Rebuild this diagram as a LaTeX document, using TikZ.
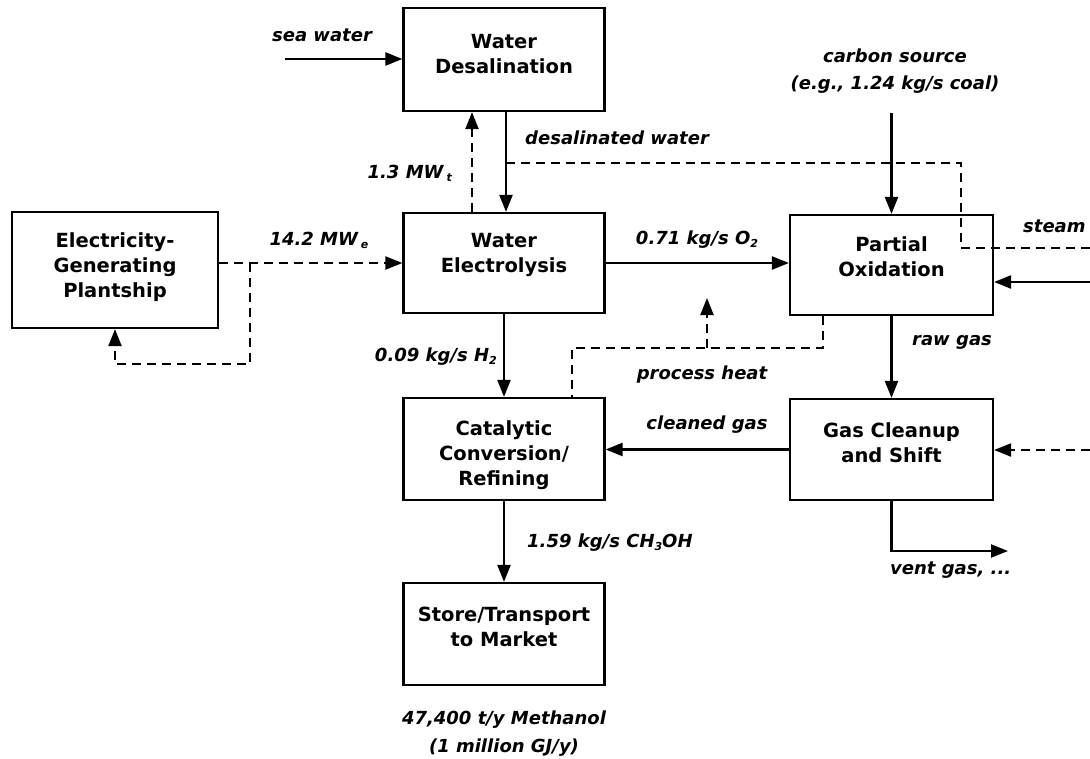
\documentclass[tikz,border=0pt]{standalone}
\usepackage{fontspec}
\setmainfont{DejaVu Sans}
\usetikzlibrary{arrows.meta}
\newcommand\mysub[1]{\raisebox{-0.3ex}{\fontsize{11}{11}\selectfont #1}}
\begin{document}
\begin{tikzpicture}[x=1pt,y=-1pt,
  tip/.style={-{Triangle[length=17pt,width=13pt]}},
  box/.style={draw, line width=2.2pt, minimum width=201pt, minimum height=101pt, inner sep=0pt},
  boxtext/.style={font=\fontsize{19.5}{25}\selectfont\bfseries, align=center, inner sep=0pt},
  lbl/.style={font=\fontsize{18}{27}\selectfont\bfseries\itshape, inner sep=0pt, align=center},
  flow/.style={line width=2.3pt, tip},
  dsh/.style={line width=2.1pt, dash pattern=on 9pt off 6pt}]
\useasboundingbox (0,0) rectangle (1090,758);
% boxes
\node[box, minimum height=103pt] (desal) at (504,59.5) {};
\node[boxtext] (tdesal) at (504,54) {Water\\Desalination};
\node[box, minimum height=100pt] (elec) at (504,263) {};
\node[boxtext] (telec) at (504,255) {Water\\Electrolysis};
\node[box, minimum width=206pt, minimum height=116pt] (plant) at (115,270) {};
\node[boxtext] (tplant) at (115,267) {Electricity-\\Generating\\Plantship};
\node[box, minimum width=203pt, minimum height=100pt] (po) at (891.5,265) {};
\node[boxtext] (tpo) at (891.5,257) {Partial\\Oxidation};
\node[box, minimum height=102pt] (cat) at (504,449) {};
\node[boxtext] (tcat) at (504,455) {Catalytic\\Conversion/\\Refining};
\node[box, minimum width=203pt, minimum height=101pt] (gcs) at (891.5,449.5) {};
\node[boxtext] (tgcs) at (891.5,443) {Gas Cleanup\\and Shift};
\node[box, minimum height=102pt] (store) at (504,634) {};
\node[boxtext] (tstore) at (504,627) {Store/Transport\\to Market};
% free ends and bends
\coordinate (seain) at (285,59);
\coordinate (steamin) at (1090,248);
\coordinate (sb1) at (961,248);
\coordinate (sb2) at (961,163);
\coordinate (j1) at (506,163);
\coordinate (pwr) at (250,263);
\coordinate (pb1) at (250,364);
\coordinate (pb2) at (115,364);
\coordinate (cin) at (891.5,113);
\coordinate (rin) at (1090,282);
\coordinate (ph1) at (823,348);
\coordinate (ph2) at (572,348);
\coordinate (ph3) at (707,348);
\coordinate (phtip) at (707,298);
\coordinate (din) at (1090,450);
\coordinate (vent) at (1008,551);
% connectors
\draw[flow] (seain) -- (seain -| desal.west);
\draw[flow] ([xshift=2pt]desal.south) -- ([xshift=2pt]elec.north);
\draw[dsh, tip] ([xshift=-32pt]elec.north) -- ([xshift=-32pt]desal.south);
\draw[dsh] (steamin) -- (sb1) -- (sb2) -- (j1);
\draw[dsh, tip] (plant.east |- pwr) -- (pwr -| elec.west);
\draw[dsh, tip] (pwr) -- (pb1) -- (pb2) -- (plant.south);
\draw[flow] (elec.east) -- (elec.east -| po.west);
\draw[flow] (cin) -- (po.north);
\draw[flow] (rin) -- (rin -| po.east);
\draw[flow] (po.south) -- (gcs.north);
\draw[dsh] (ph1 |- po.south) -- (ph1) -- (ph2) -- (ph2 |- cat.north);
\draw[dsh, tip] (ph3) -- (phtip);
\draw[flow] (elec.south) -- (cat.north);
\draw[flow] (gcs.west) -- (gcs.west -| cat.east);
\draw[dsh, tip] (din) -- (din -| gcs.east);
\draw[flow] (gcs.south) |- (vent);
\draw[flow] (cat.south) -- (store.north);
% labels
\node[lbl] (lsea) at (322,35) {sea water};
\node[lbl, anchor=west] (ldes) at (525,138) {desalinated water};
\node[lbl, anchor=east] (l13) at (452,173) {1.3 MW\,\mysub{t}};
\node[lbl] (l142) at (319,240) {14.2 MW\,\mysub{e}};
\node[lbl] (lo2) at (697,240) {0.71 kg/s O\mysub{2}};
\node[lbl] (lcarb) at (895,71.5) {carbon source\\(e.g., 1.24 kg/s coal)};
\node[lbl, anchor=west] (lsteam) at (1023,226) {steam};
\node[lbl, anchor=west] (lraw) at (912,342) {raw gas};
\node[lbl, anchor=east] (lh2) at (497,357) {0.09 kg/s H\mysub{2}};
\node[lbl] (lph) at (702,375) {process heat};
\node[lbl] (lclean) at (707,425) {cleaned gas};
\node[lbl, anchor=west] (lvent) at (890,570) {vent gas, ...};
\node[lbl, anchor=west] (lch) at (527,543) {1.59 kg/s CH\mysub{3}OH};
\node[lbl, font=\fontsize{18}{28}\selectfont\bfseries\itshape] (lmeth) at (504,734) {47,400 t/y Methanol\\(1 million GJ/y)};
\end{tikzpicture}
\end{document}
